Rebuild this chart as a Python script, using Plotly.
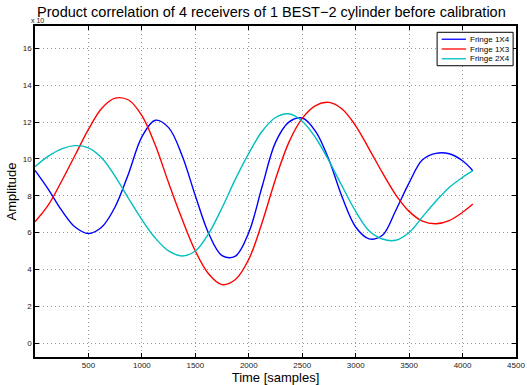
import plotly.graph_objects as go

# sample positions
t = [0, 125, 250, 375, 500, 625, 750, 875, 1000, 1125, 1250, 1375, 1500, 1625, 1750, 1875,
     2000, 2125, 2250, 2375, 2500, 2625, 2750, 2875, 3000, 3125, 3250, 3375, 3500, 3625,
     3750, 3875, 4000, 4096]

# Fringe 1X4 (blue)
y_1x4 = [9.38, 8.35, 7.2, 6.3, 5.95, 6.3, 7.4, 9.2, 11.2, 12.1, 11.7, 10.2, 8.0, 5.95, 4.75, 4.72,
         6.0, 8.5, 10.9, 12.0, 12.22, 11.5, 9.95, 7.9, 6.3, 5.66, 5.85, 7.2, 8.7, 9.95,
         10.3, 10.28, 9.9, 9.36]

# Fringe 1X3 (red)
y_1x3 = [6.58, 7.5, 8.8, 10.2, 11.6, 12.75, 13.3, 13.2, 12.35, 10.75, 8.7, 6.75, 5.0, 3.75, 3.17, 3.45,
         4.55, 6.55, 8.9, 10.9, 12.2, 12.9, 13.07, 12.7, 11.8, 10.55, 9.25, 8.05, 7.15, 6.62,
         6.48, 6.65, 7.1, 7.55]

# Fringe 2X4 (cyan)
y_2x4 = [9.58, 10.15, 10.55, 10.72, 10.6, 10.05, 9.05, 7.85, 6.7, 5.7, 5.0, 4.73, 5.0, 5.95, 7.35, 8.9,
         10.3, 11.5, 12.25, 12.45, 12.05, 11.15, 9.9, 8.5, 7.15, 6.1, 5.65, 5.58, 6.0, 6.85,
         7.7, 8.45, 9.0, 9.36]

series_names = ["Fringe 1X4", "Fringe 1X3", "Fringe 2X4"]
series_colors = ["#0000ff", "#ff0000", "#00bfbf"]

x_ticks = [500, 1000, 1500, 2000, 2500, 3000, 3500, 4000, 4500]
y_ticks = [0, 2, 4, 6, 8, 10, 12, 14, 16]

FONT = "Liberation Sans, Arial, sans-serif"

fig = go.Figure()
for ys, name, col in zip([y_1x4, y_1x3, y_2x4], series_names, series_colors):
    fig.add_trace(go.Scatter(x=t, y=ys, mode="lines", name=name, showlegend=False,
                             line=dict(color=col, width=1.4, shape="spline", smoothing=1.0)))

axis_common = dict(
    showline=True, linecolor="black", linewidth=1.5, mirror="allticks",
    ticks="inside", ticklen=4, tickcolor="black", tickwidth=1,
    showgrid=True, gridcolor="#9a9a9a", griddash="1px,3px", gridwidth=1,
    zeroline=False, automargin=False, tickfont=dict(size=8, color="#222", family=FONT),
)

fig.update_xaxes(range=[0, 4500], tickvals=x_ticks,
                 title=dict(text="Time [samples]", font=dict(size=13, color="black", family=FONT), standoff=5),
                 **axis_common)
fig.update_yaxes(range=[-0.76, 17.22], tickvals=y_ticks,
                 title=dict(text="Amplitude", font=dict(size=13, color="black", family=FONT), standoff=3),
                 **axis_common)

# MATLAB-style compact legend drawn with shapes + text
lx0, lx1 = 0.836, 0.994
ly0, ly1 = 0.880, 0.981
row_y = [0.960, 0.9305, 0.901]
shapes = [dict(type="rect", xref="paper", yref="paper", x0=lx0, x1=lx1, y0=ly0, y1=ly1,
               line=dict(color="black", width=1), fillcolor="white", layer="above")]
annotations = []
for name, col, ry in zip(series_names, series_colors, row_y):
    shapes.append(dict(type="line", xref="paper", yref="paper", x0=0.8455, x1=0.896, y0=ry, y1=ry,
                       line=dict(color=col, width=1.3), layer="above"))
    annotations.append(dict(text=name, xref="paper", yref="paper", x=0.900, y=ry,
                            xanchor="left", yanchor="middle", showarrow=False,
                            font=dict(size=8, color="black", family=FONT)))

annotations.append(dict(text="x 10", x=0.0, xref="paper", y=1.0, yref="paper",
                        xanchor="left", yanchor="bottom", showarrow=False,
                        font=dict(size=7, color="#222", family=FONT), xshift=-6, yshift=0))

fig.update_layout(
    width=527, height=385,
    margin=dict(l=35, r=11, t=26, b=28),
    paper_bgcolor="white", plot_bgcolor="white",
    title=dict(text="Product correlation of 4 receivers of 1 BEST\u22122 cylinder before calibration",
               x=0.515, xanchor="center", y=0.968, yanchor="middle",
               font=dict(size=14.5, color="black", family=FONT)),
    showlegend=False,
    shapes=shapes,
    annotations=annotations,
)

fig.write_html("out.html")
